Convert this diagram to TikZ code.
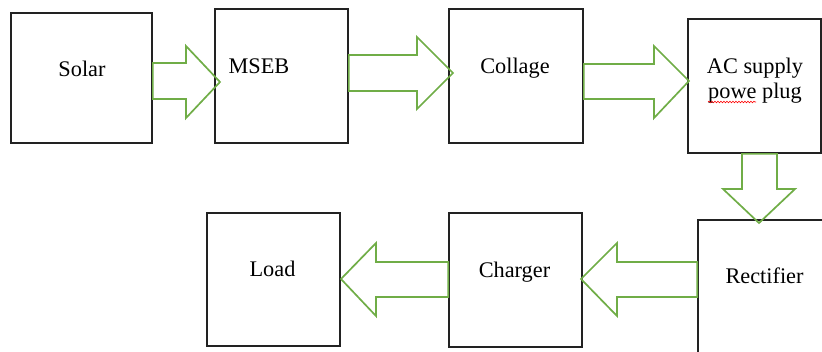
\documentclass[tikz,border=0pt]{standalone}
\usepackage{fontspec}
\setmainfont{Liberation Serif}
\usetikzlibrary{decorations.pathmorphing}
\definecolor{boxcol}{HTML}{222222}
\definecolor{arrgreen}{HTML}{70AD47}
\tikzset{
  blk/.style={draw=boxcol, line width=1.7pt, inner sep=0pt, minimum width=133pt, minimum height=134pt},
  blockarrow/.style={draw=arrgreen, line width=1.7pt, line join=miter},
  lbl/.style={anchor=base, inner sep=0pt, font=\fontsize{22.3pt}{25pt}\selectfont, text=black},
}
\begin{document}
\begin{tikzpicture}[x=1pt,y=-1pt]
\useasboundingbox (0,0) rectangle (822,351);
\clip (0,0) rectangle (822,351);
% boxes
\node[blk, minimum width=141pt, minimum height=130pt] (solar) at (81.5,78) {};
\node[blk] (mseb) at (281.5,76) {};
\node[blk, minimum width=134pt] (collage) at (516,76) {};
\node[blk] (ac) at (754.5,86) {};
\node[blk, minimum width=134pt] (rect) at (765,287) {};
\node[blk] (charger) at (515.5,280) {};
\node[blk, minimum height=133pt] (load) at (273.5,279.5) {};
% labels
\node[lbl] (tsolar) at (82,76) {Solar};
\node[lbl] (tmseb) at (259,73) {MSEB};
\node[lbl] (tcollage) at (515,73) {Collage};
\node[lbl] (tac1) at (755,73) {AC supply};
\node[lbl] (tac2) at (755,98) {powe plug};
\node[lbl] (trect) at (764.5,283) {Rectifier};
\node[lbl] (tcharger) at (514.5,277) {Charger};
\node[lbl] (tload) at (272.5,276) {Load};
% spell-check squiggle
\draw[red, line width=0.6pt, decorate, decoration={snake, amplitude=0.8pt, segment length=3pt}] (708,102) -- (756,102);
% block arrows
\draw[blockarrow] (solar.east |- 0,63) -- (186,63) -- (186,46) -- (220,82) -- (186,118) -- (186,99) -- (solar.east |- 0,99) -- cycle;
\draw[blockarrow] (mseb.east |- 0,55) -- (417,55) -- (417,37) -- (453,73) -- (417,109) -- (417,91) -- (mseb.east |- 0,91) -- cycle;
\draw[blockarrow] (collage.east |- 0,64) -- (654,64) -- (654,46) -- (689,81) -- (654,118) -- (654,99) -- (collage.east |- 0,99) -- cycle;
\draw[blockarrow] (ac.south -| 742,0) -- (742,189) -- (723,189) -- (759,223) -- (795,189) -- (777,189) -- (ac.south -| 777,0) -- cycle;
\draw[blockarrow] (rect.west |- 0,262) -- (617,262) -- (617,243) -- (581,279) -- (617,316) -- (617,297) -- (rect.west |- 0,297) -- cycle;
\draw[blockarrow] (charger.west |- 0,262) -- (376,262) -- (376,243) -- (341,279) -- (376,316) -- (376,297) -- (charger.west |- 0,297) -- cycle;
\end{tikzpicture}
\end{document}
